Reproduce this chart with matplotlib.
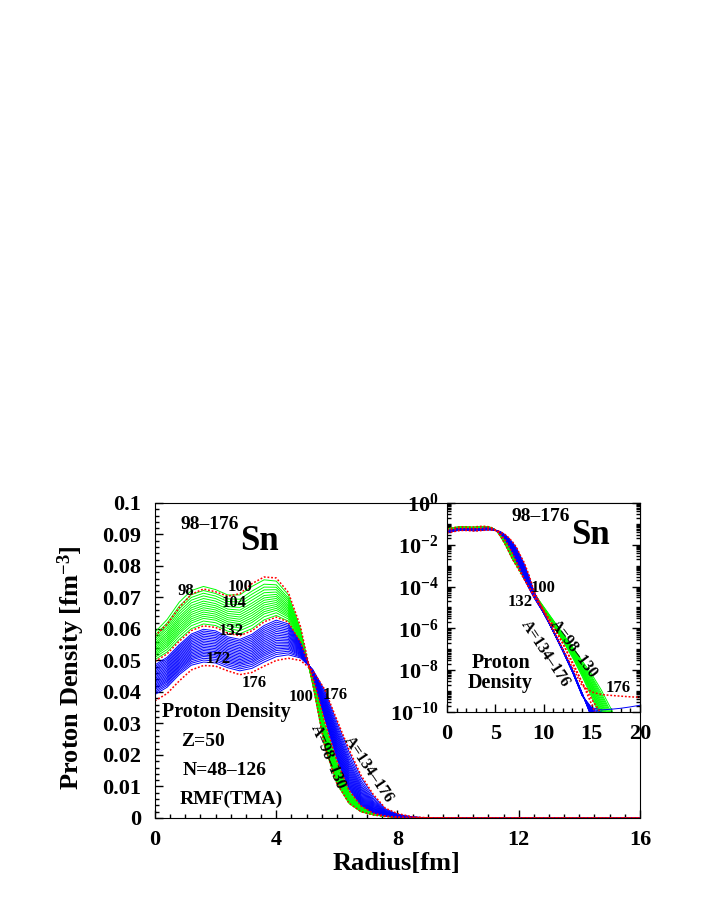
import numpy as np
import matplotlib
matplotlib.use("Agg")
import matplotlib.pyplot as plt
from matplotlib.ticker import MultipleLocator, LogLocator, NullFormatter

plt.rcParams['font.family'] = ['Liberation Serif', 'DejaVu Serif']
plt.rcParams['font.weight'] = 'bold'
plt.rcParams['axes.labelweight'] = 'bold'
plt.rcParams['mathtext.fontset'] = 'custom'
plt.rcParams['mathtext.rm'] = 'Liberation Serif:bold'
plt.rcParams['mathtext.bf'] = 'Liberation Serif:bold'
plt.rcParams['mathtext.it'] = 'Liberation Serif:bold:italic'

# radial grid [fm]
radius = [0.0, 0.4, 0.8, 1.2, 1.6, 2.0, 2.4, 2.8, 3.2, 3.6, 4.0, 4.4, 4.8, 5.2, 5.6,
          6.0, 6.4, 6.8, 7.2, 7.6, 8.0, 8.5, 9, 10, 11, 12, 13, 14, 15, 16, 17, 18, 19, 20]

# proton densities [fm^-3]
rho_98 = [0.0590, 0.0630, 0.0685, 0.0722, 0.0735, 0.0725, 0.0708, 0.0708, 0.0735, 0.0756,
          0.0752, 0.0708, 0.0600, 0.0425, 0.0225, 0.0108, 0.0046, 0.0019, 1.0e-3, 5.0e-4,
          2.5e-4, 1.1e-4, 5.0e-5, 1.1e-5, 2.5e-6, 5.6e-7, 1.3e-7, 2.8e-8, 6.3e-9, 1.1e-9,
          1.4e-10, 1.6e-11, 1.6e-12, 1.6e-13]
rho_100 = [0.0578, 0.0615, 0.0668, 0.0710, 0.0727, 0.0718, 0.0704, 0.0712, 0.0744, 0.0765,
           0.0762, 0.0716, 0.0608, 0.0430, 0.0228, 0.0110, 0.0047, 0.0020, 9.5e-4, 4.6e-4,
           2.2e-4, 9.5e-5, 4.2e-5, 8.0e-6, 1.4e-6, 2.0e-7, 2.0e-8, 2.5e-9, 4.0e-10, 8.0e-11,
           6.0e-12, 5.0e-13, 4.0e-14, 3.0e-15]
rho_130 = [0.0503, 0.0527, 0.0567, 0.0601, 0.0616, 0.0611, 0.0593, 0.0585, 0.0601, 0.0629,
           0.0643, 0.0625, 0.0558, 0.0450, 0.0300, 0.0178, 0.0085, 0.0037, 0.0015, 6.0e-4,
           2.4e-4, 9.0e-5, 3.5e-5, 7.0e-6, 1.4e-6, 2.5e-7, 4.0e-8, 5.0e-9, 5.0e-10, 4.0e-11,
           3.0e-12, 2.0e-13, 1.5e-14, 1.0e-15]
rho_134 = [0.0486, 0.0510, 0.0550, 0.0584, 0.0599, 0.0594, 0.0575, 0.0567, 0.0583, 0.0611,
           0.0628, 0.0616, 0.0557, 0.0456, 0.0316, 0.0188, 0.0092, 0.0040, 0.0016, 6.2e-4,
           2.3e-4, 8.0e-5, 3.0e-5, 5.5e-6, 8.0e-7, 1.0e-7, 1.0e-8, 8.0e-10, 5.0e-11, 3.0e-12,
           2.0e-13, 1.0e-14, 1.0e-15, 1.0e-16]
rho_174 = [0.0392, 0.0415, 0.0455, 0.0485, 0.0495, 0.0492, 0.0477, 0.0467, 0.0475, 0.0495,
           0.0512, 0.0518, 0.0508, 0.0472, 0.0405, 0.0305, 0.0210, 0.0128, 0.0070, 0.0029,
           0.0012, 3.0e-4, 6.0e-5, 6.0e-6, 7.0e-7, 8.0e-8, 8.0e-9, 6.0e-10, 1.6e-10, 1.25e-10,
           1.35e-10, 1.5e-10, 1.75e-10, 2.1e-10]
rho_176 = [0.0372, 0.0395, 0.0435, 0.0470, 0.0484, 0.0482, 0.0467, 0.0455, 0.0462, 0.0482,
           0.0500, 0.0507, 0.0500, 0.0468, 0.0408, 0.0312, 0.0218, 0.0135, 0.0075, 0.0031,
           0.0014, 3.5e-4, 6.3e-5, 7.0e-6, 8.0e-7, 1.0e-7, 1.3e-8, 1.8e-9, 9.0e-10, 6.8e-10,
           6.2e-10, 5.7e-10, 5.3e-10, 5.0e-10]

# first-maximum density (r~1.6 fm) of each drawn isotope
green_A = [98, 102, 104, 106, 108, 110, 112, 114, 116, 118, 120, 122, 124, 126, 128, 130]
green_peak = [0.0735, 0.0723, 0.0715, 0.0707, 0.0699, 0.0691, 0.0684, 0.0677, 0.0670,
              0.0663, 0.0656, 0.0649, 0.0642, 0.0635, 0.0626, 0.0616]
blue_A = [134, 136, 138, 140, 142, 144, 146, 148, 150, 152, 154, 156, 158, 160, 162, 164,
          166, 168, 170, 172, 174]
blue_peak = [0.0599, 0.0594, 0.0589, 0.0584, 0.0579, 0.0574, 0.0569, 0.0564, 0.0559, 0.0554,
             0.0549, 0.0544, 0.0539, 0.0534, 0.0529, 0.0524, 0.0519, 0.0514, 0.0508, 0.0502,
             0.0495]
peak_132 = 0.0610


def between(lo, hi, lo_pk, hi_pk, pk):
    # place a curve between two read curves according to its read peak level
    w = (pk - lo_pk) / (hi_pk - lo_pk)
    return 10 ** ((1 - w) * np.log10(lo) + w * np.log10(hi))


r = np.array(radius)
green = [between(np.array(rho_130), np.array(rho_98), green_peak[-1], green_peak[0], p)
         for p in green_peak]
blue = [between(np.array(rho_174), np.array(rho_134), blue_peak[-1], blue_peak[0], p)
        for p in blue_peak]
red = [np.array(rho_100),
       between(np.array(rho_134), np.array(rho_130), blue_peak[0], green_peak[-1], peak_132),
       np.array(rho_176)]

fig = plt.figure(figsize=(7.08, 9.17), dpi=100)
ax = fig.add_axes([0.2189, 0.1080, 0.6850, 0.3435])
ax2 = fig.add_axes([0.6314, 0.2236, 0.2726, 0.2279])

for a in (ax, ax2):
    for y in green:
        a.plot(r, y, color='#00ff00', lw=0.7)
    for y in blue:
        a.plot(r, y, color='#0000ff', lw=0.7)
    for y in red:
        a.plot(r, y, color='#ff0000', lw=1.1, ls=(0, (1.2, 1.2)))

# main panel
ax.set_xlim(0, 16)
ax.set_ylim(0, 0.1)
ax.set_xticks([0, 4, 8, 12, 16])
ax.xaxis.set_minor_locator(MultipleLocator(0.5))
ax.set_yticks([0, 0.01, 0.02, 0.03, 0.04, 0.05, 0.06, 0.07, 0.08, 0.09, 0.1])
ax.set_yticklabels(['0', '0.01', '0.02', '0.03', '0.04', '0.05', '0.06', '0.07', '0.08',
                    '0.09', '0.1'])
ax.yaxis.set_minor_locator(MultipleLocator(0.002))
ax.tick_params(which='both', direction='in', top=False, right=False, labelsize=16)
ax.tick_params(which='major', length=6, width=1)
ax.tick_params(which='minor', length=3, width=1)
ax.tick_params(axis='y', pad=10)
ax.tick_params(axis='x', pad=9)
ax.set_xlabel('Radius[fm]', fontsize=19, fontweight='bold')
ax.xaxis.set_label_coords(0.499, -0.108)
ax.set_ylabel(r'Proton Density [fm$^{-3}$]', fontsize=19, fontweight='bold')
ax.yaxis.set_label_coords(-0.140, 0.476)

ax.text(1.81, 0.0933, '98\u2013176', fontsize=14, ha='center', va='center')
ax.text(2.8, 0.0851, 'Sn', fontsize=25, ha='left', va='baseline')
for txt, x, y in [('98', 1.01, 0.0721), ('100', 2.80, 0.0733), ('104', 2.61, 0.0684),
                  ('132', 2.50, 0.0594), ('172', 2.10, 0.0504), ('176', 3.28, 0.0430),
                  ('100', 4.83, 0.0385), ('176', 5.94, 0.0390)]:
    ax.text(x, y, txt, fontsize=12, ha='center', va='center')
ax.text(2.37, 0.0335, 'Proton Density', fontsize=14.5, ha='center', va='center')
ax.text(1.57, 0.0243, 'Z=50', fontsize=14, ha='center', va='center')
ax.text(2.29, 0.0152, 'N=48\u2013126', fontsize=14, ha='center', va='center')
ax.text(2.51, 0.0060, 'RMF(TMA)', fontsize=14, ha='center', va='center')
ax.text(5.71, 0.0192, 'A=98\u2013130', fontsize=11.5, rotation=-67, ha='center',
        va='center', rotation_mode='anchor')
ax.text(7.05, 0.0155, 'A=134\u2013176', fontsize=11.5, rotation=-56, ha='center',
        va='center', rotation_mode='anchor')

# inset, log scale
ax2.set_yscale('log')
ax2.set_xlim(0, 20)
ax2.set_ylim(1e-10, 1)
ax2.set_xticks([0, 5, 10, 15, 20])
ax2.xaxis.set_minor_locator(MultipleLocator(1))
dec = [1, 1e-2, 1e-4, 1e-6, 1e-8, 1e-10]
ax2.set_yticks(dec)
ax2.set_yticklabels([r'$10^{0}$', r'$10^{-2}$', r'$10^{-4}$', r'$10^{-6}$', r'$10^{-8}$',
                     r'$10^{-10}$'])
ax2.yaxis.set_minor_locator(LogLocator(base=10, subs=range(1, 10), numticks=30))
ax2.yaxis.set_minor_formatter(NullFormatter())
ax2.tick_params(which='both', direction='in', top=False, right=True, labelsize=16)
ax2.tick_params(which='major', length=6, width=1)
ax2.tick_params(which='minor', length=3, width=1)
ax2.tick_params(axis='y', pad=6)
ax2.tick_params(axis='x', pad=9)

ax2.text(9.74, 10 ** -0.67, '98\u2013176', fontsize=14, ha='center', va='center')
ax2.text(12.9, 10 ** -1.95, 'Sn', fontsize=25, ha='left', va='baseline')
ax2.text(9.97, 10 ** -4.05, '100', fontsize=12, ha='center', va='center')
ax2.text(7.56, 10 ** -4.76, '132', fontsize=12, ha='center', va='center')
ax2.text(17.7, 10 ** -8.86, '176', fontsize=12, ha='center', va='center')
ax2.text(13.1, 1e-7, 'A=98\u2013130', fontsize=11.5, rotation=-53, ha='center',
         va='center', rotation_mode='anchor')
ax2.text(10.2, 10 ** -7.24, 'A=134\u2013176', fontsize=11.5, rotation=-56.5, ha='center',
         va='center', rotation_mode='anchor')
ax2.text(5.58, 10 ** -7.67, 'Proton', fontsize=14.5, ha='center', va='center')
ax2.text(5.5, 10 ** -8.62, 'Density', fontsize=14.5, ha='center', va='center')

fig.savefig('out.png', dpi=100)
